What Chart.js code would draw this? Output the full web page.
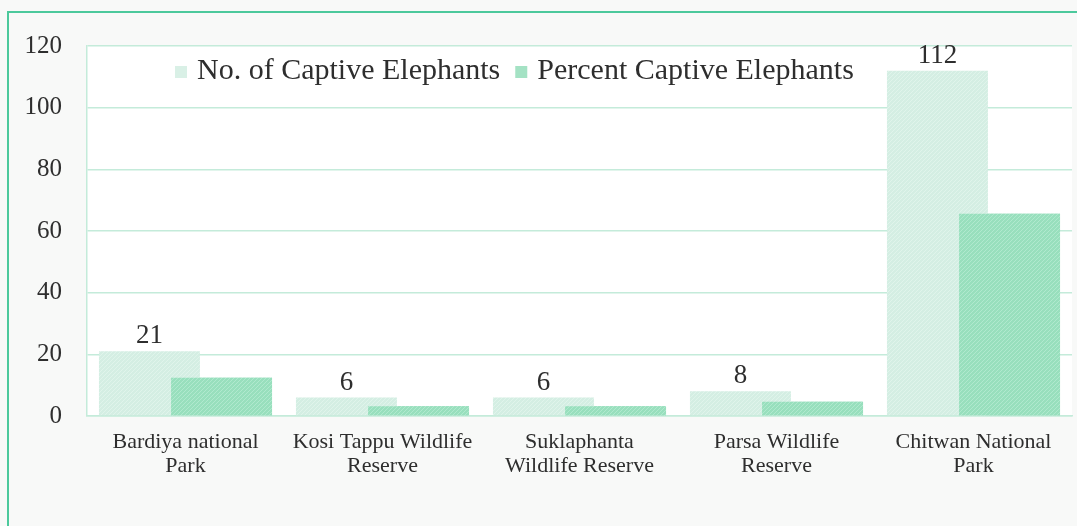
<!DOCTYPE html>
<html>
<head>
<meta charset="utf-8">
<script src="https://cdn.jsdelivr.net/npm/chart.js@4/dist/chart.umd.min.js"></script>
<style>
  html, body { margin: 0; padding: 0; background: #f8f9f8; }
  #wrap { width: 1077px; height: 526px; position: relative; }
</style>
</head>
<body>
<div id="wrap"><canvas id="c" width="1077" height="526"></canvas></div>
<script>
// Captive elephants in Nepal's protected areas
const categories = [
  ['Bardiya national', 'Park'],
  ['Kosi Tappu Wildlife', 'Reserve'],
  ['Suklaphanta', 'Wildlife Reserve'],
  ['Parsa Wildlife', 'Reserve'],
  ['Chitwan National', 'Park']
];
const captiveCount = [21, 6, 6, 8, 112];
const captivePercent = [12.4, 3.2, 3.2, 4.6, 65.6];
const seriesNames = ['No. of Captive Elephants', 'Percent Captive Elephants'];
const yTicks = [0, 20, 40, 60, 80, 100, 120];

const SERIF = '"Liberation Serif", "DejaVu Serif", serif';
const TEXT = '#2e2e2e';
const GRID = '#c4ebda';

// Fine diagonal hatch, like a printed screen tint
function hatch(base, stripe) {
  const p = document.createElement('canvas');
  p.width = 4; p.height = 4;
  const g = p.getContext('2d');
  g.fillStyle = base; g.fillRect(0, 0, 4, 4);
  g.strokeStyle = stripe; g.lineWidth = 1;
  g.beginPath();
  g.moveTo(0, 4); g.lineTo(4, 0);
  g.moveTo(-1, 1); g.lineTo(1, -1);
  g.moveTo(3, 5); g.lineTo(5, 3);
  g.stroke();
  return g.createPattern(p, 'repeat');
}
const lightFill = hatch('#d4eee3', '#e0f4eb');
const darkFill = hatch('#98dfbd', '#b0e9ce');
const lightSwatch = '#d9f0e6';
const darkSwatch = '#a4e2c4';

// Page frame, white plot panel, legend and value labels
const decor = {
  id: 'decor',
  beforeDraw(chart) {
    const ctx = chart.ctx, a = chart.chartArea;
    ctx.save();
    ctx.fillStyle = '#f8f9f8';
    ctx.fillRect(0, 0, chart.width, chart.height);
    ctx.fillStyle = '#ffffff';
    ctx.fillRect(a.left, a.top, a.right - a.left, a.bottom - a.top);
    ctx.strokeStyle = '#4cc99c';
    ctx.lineWidth = 2;
    ctx.beginPath();
    ctx.moveTo(8, chart.height); ctx.lineTo(8, 12); ctx.lineTo(chart.width, 12);
    ctx.stroke();
    ctx.restore();
  },
  afterDatasetsDraw(chart) {
    // percent bars overlap the count bars and sit in front of them
    chart.getDatasetMeta(1).controller.draw();

    const ctx = chart.ctx;
    ctx.save();
    // value labels over the count bars
    const meta = chart.getDatasetMeta(0);
    ctx.font = '27px ' + SERIF;
    ctx.fillStyle = TEXT;
    ctx.textAlign = 'center';
    ctx.textBaseline = 'alphabetic';
    meta.data.forEach((bar, i) => {
      ctx.fillText(String(captiveCount[i]), bar.x, bar.y - 8);
    });
    // legend inside the plot
    ctx.font = '30px ' + SERIF;
    ctx.textAlign = 'left';
    let x = 175;
    const swatches = [lightSwatch, darkSwatch];
    seriesNames.forEach((name, i) => {
      ctx.fillStyle = swatches[i];
      ctx.fillRect(x, 66, 12, 12);
      ctx.fillStyle = TEXT;
      ctx.fillText(name, x + 22, 79);
      x += 22 + ctx.measureText(name).width + 15;
    });
    ctx.restore();
  }
};

new Chart(document.getElementById('c'), {
  type: 'bar',
  data: {
    labels: categories,
    datasets: [
      { label: seriesNames[0], data: captiveCount, backgroundColor: lightFill,
        categoryPercentage: 0.732, barPercentage: 1.40 },
      { label: seriesNames[1], data: captivePercent, backgroundColor: darkFill,
        categoryPercentage: 0.732, barPercentage: 1.40 }
    ]
  },
  options: {
    responsive: false,
    animation: false,
    layout: { padding: { top: 46, right: 5, bottom: 0, left: 0 } },
    plugins: { legend: { display: false }, tooltip: { enabled: false } },
    scales: {
      x: {
        grid: { display: false },
        border: { display: true, color: GRID, width: 1.5 },
        ticks: {
          color: TEXT, padding: 6, maxRotation: 0, autoSkip: false,
          font: { family: SERIF, size: 22, lineHeight: 1.1 }
        },
        afterFit(s) { s.height = 110; }
      },
      y: {
        min: 0, max: 120,
        afterBuildTicks(s) { s.ticks = yTicks.map(v => ({ value: v })); },
        grid: { color: GRID, lineWidth: 1.5, drawTicks: false },
        border: { display: true, color: GRID, width: 1.5 },
        ticks: {
          color: TEXT, padding: 25,
          font: { family: SERIF, size: 25 }
        },
        afterFit(s) { s.width = 87; }
      }
    }
  },
  plugins: [decor]
});
</script>
</body>
</html>
